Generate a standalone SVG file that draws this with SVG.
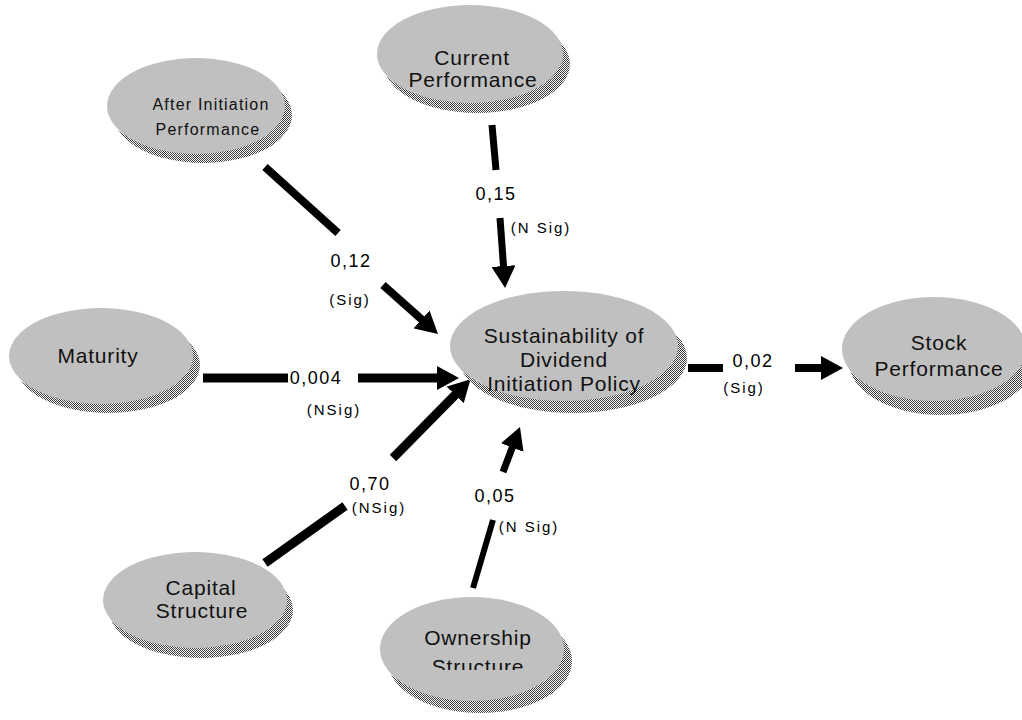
<svg xmlns="http://www.w3.org/2000/svg" width="1022" height="720" viewBox="0 0 1022 720">
<style>
.node{fill:#c0c0c0;stroke:none}
.shadow{fill:url(#dither);stroke:none}
.lbl{font-family:"Liberation Sans",Arial,sans-serif;font-size:21px;letter-spacing:0.8px;fill:#111;text-anchor:middle}
.small{font-size:16px;letter-spacing:1.2px}
.num{font-family:"Liberation Sans",Arial,sans-serif;font-size:18px;letter-spacing:1.5px;fill:#000;text-anchor:middle}
.sig{font-family:"Liberation Sans",Arial,sans-serif;font-size:15px;letter-spacing:2px;fill:#000;text-anchor:middle}
.edge{stroke:#000;fill:none;stroke-linecap:butt}
</style>
<defs>
<pattern id="dither" width="2" height="2" patternUnits="userSpaceOnUse">
<rect width="2" height="2" fill="#ffffff"/>
<rect x="0" y="0" width="1" height="1" fill="#3a3a3a"/>
<rect x="1" y="1" width="1" height="1" fill="#3a3a3a"/>
</pattern>
<marker id="ah" markerUnits="userSpaceOnUse" markerWidth="22" markerHeight="24" refX="7" refY="12" orient="auto">
<path d="M0,0 L22,12 L0,24 Z" fill="#000"/>
</marker>
<clipPath id="clipOwn"><rect x="0" y="0" width="1022" height="670"/></clipPath>
</defs>
<rect width="1022" height="720" fill="#fff"/>

<g id="connectors">
<line class="edge" x1="265" y1="167" x2="338" y2="233" stroke-width="8"/>
<line class="edge" x1="383" y1="285" x2="426.8" y2="324" stroke-width="8" marker-end="url(#ah)"/>
<line class="edge" x1="492" y1="125" x2="496" y2="170" stroke-width="7"/>
<line class="edge" x1="500" y1="218" x2="504" y2="273" stroke-width="7" marker-end="url(#ah)"/>
<line class="edge" x1="203" y1="378" x2="288" y2="378" stroke-width="9"/>
<line class="edge" x1="358" y1="378" x2="444" y2="378" stroke-width="9" marker-end="url(#ah)"/>
<line class="edge" x1="265" y1="563" x2="345" y2="506" stroke-width="9"/>
<line class="edge" x1="393" y1="458" x2="460" y2="390" stroke-width="9" marker-end="url(#ah)"/>
<line class="edge" x1="473" y1="588" x2="493" y2="520" stroke-width="6"/>
<line class="edge" x1="503" y1="472" x2="514.7" y2="441" stroke-width="7" marker-end="url(#ah)"/>
<line class="edge" x1="688" y1="368" x2="723" y2="368" stroke-width="8"/>
<line class="edge" x1="795" y1="368" x2="828" y2="368" stroke-width="8" marker-end="url(#ah)"/>
<text class="num" x="351" y="267">0,12</text>
<text class="sig" x="350" y="305">(Sig)</text>
<text class="num" x="496" y="200">0,15</text>
<text class="sig" x="541" y="233">(N Sig)</text>
<text class="num" x="316" y="384">0,004</text>
<text class="sig" x="334" y="415">(NSig)</text>
<text class="num" x="370" y="490">0,70</text>
<text class="sig" x="379" y="513">(NSig)</text>
<text class="num" x="495" y="502">0,05</text>
<text class="sig" x="529" y="532">(N Sig)</text>
<text class="num" x="753" y="367">0,02</text>
<text class="sig" x="744" y="393">(Sig)</text>
</g>

<g id="node-after">
<ellipse class="shadow" cx="203" cy="115" rx="89" ry="48"/>
<ellipse class="node" cx="196" cy="106" rx="89" ry="48"/>
<text class="lbl small" x="211" y="110">After Initiation</text>
<text class="lbl small" x="208" y="135">Performance</text>
</g>

<g id="node-current">
<ellipse class="shadow" cx="477" cy="64" rx="93" ry="49"/>
<ellipse class="node" cx="470" cy="54" rx="93" ry="49"/>
<text class="lbl" x="472" y="65">Current</text>
<text class="lbl" x="473" y="87">Performance</text>
</g>

<g id="node-maturity">
<ellipse class="shadow" cx="108" cy="365" rx="92" ry="48"/>
<ellipse class="node" cx="101" cy="356" rx="92" ry="48"/>
<text class="lbl" x="98" y="363">Maturity</text>
</g>

<g id="node-sustainability">
<ellipse class="shadow" cx="573" cy="358" rx="114" ry="55"/>
<ellipse class="node" cx="564" cy="346" rx="114" ry="55"/>
<text class="lbl" x="564" y="343">Sustainability of</text>
<text class="lbl" x="564" y="367">Dividend</text>
<text class="lbl" x="564" y="391">Initiation Policy</text>
</g>

<g id="node-stock">
<ellipse class="shadow" cx="941" cy="362" rx="92" ry="53"/>
<ellipse class="node" cx="934" cy="349" rx="92" ry="52"/>
<text class="lbl" x="939" y="350">Stock</text>
<text class="lbl" x="939" y="376">Performance</text>
</g>

<g id="node-capital">
<ellipse class="shadow" cx="201" cy="610" rx="92" ry="48"/>
<ellipse class="node" cx="195" cy="600" rx="92" ry="48"/>
<text class="lbl" x="201" y="595">Capital</text>
<text class="lbl" x="202" y="618">Structure</text>
</g>

<g id="node-ownership">
<ellipse class="shadow" cx="480" cy="661" rx="92" ry="52"/>
<ellipse class="node" cx="472" cy="649" rx="92" ry="52"/>
<text class="lbl" x="478" y="645">Ownership</text>
<text class="lbl" x="478" y="674" clip-path="url(#clipOwn)">Structure</text>
</g>
</svg>
